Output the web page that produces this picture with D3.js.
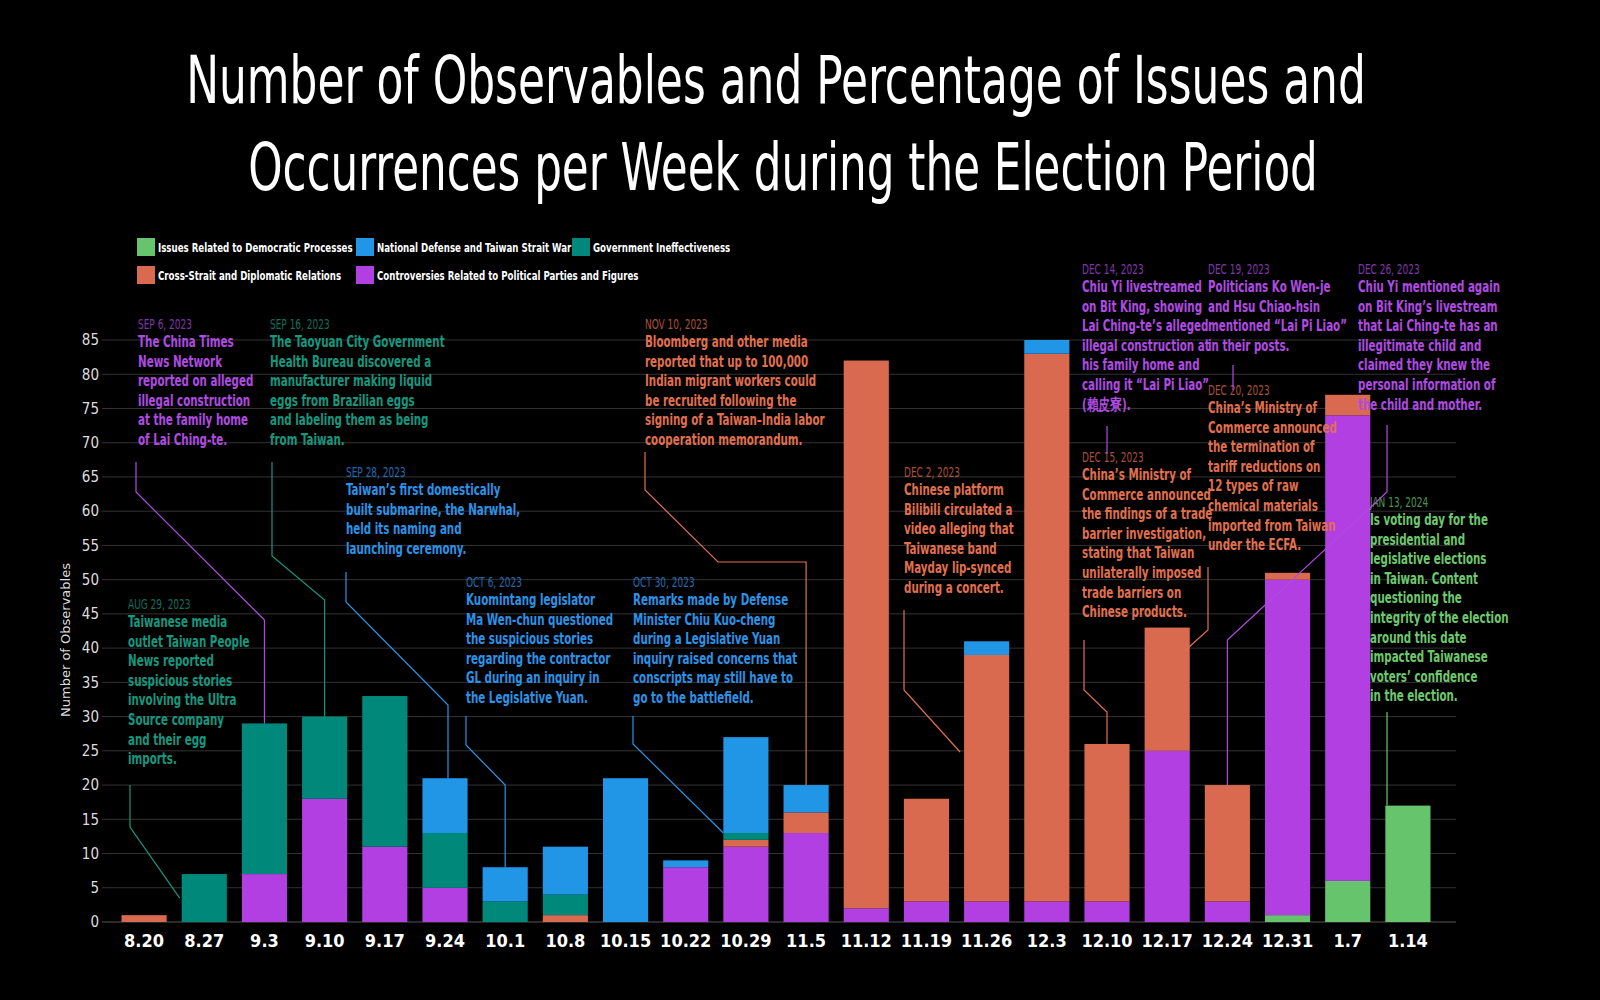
<!DOCTYPE html>
<html><head><meta charset="utf-8">
<script src="https://cdn.jsdelivr.net/npm/d3@7"></script>
<style>body{margin:0;background:#000}svg{display:block}</style>
</head><body><svg id="c" width="1600" height="1000"></svg>
<script>
const weeks=["8.20","8.27","9.3","9.10","9.17","9.24","10.1","10.8","10.15","10.22","10.29","11.5","11.12","11.19","11.26","12.3","12.10","12.17","12.24","12.31","1.7","1.14"];
const democratic=[0,0,0,0,0,0,0,0,0,0,0,0,0,0,0,0,0,0,0,1,6,17];
const political=[0,0,7,18,11,5,0,0,0,8,11,13,2,3,3,3,3,25,3,49,68,0];
const crossStrait=[1,0,0,0,0,0,0,1,0,0,1,3,80,15,36,80,23,18,17,1,3,0];
const government=[0,7,22,12,22,8,3,3,0,0,1,0,0,0,0,0,0,0,0,0,0,0];
const defense=[0,0,0,0,0,8,5,7,21,1,14,4,0,0,2,2,0,0,0,0,0,0];
const yTicks=[0,5,10,15,20,25,30,35,40,45,50,55,60,65,70,75,80,85];
const seriesNames=["Issues Related to Democratic Processes","Controversies Related to Political Parties and Figures","Cross-Strait and Diplomatic Relations","Government Ineffectiveness","National Defense and Taiwan Strait War"];
const seriesColors=["#66c46c","#b13fe2","#d96a50","#00897b","#2196e6"];
const seriesData=[democratic,political,crossStrait,government,defense];

const F="'DejaVu Sans Condensed','Liberation Sans Narrow',sans-serif";
const svg=d3.select("#c");
const x=d3.scaleBand().domain(weeks).range([114,1438]).paddingInner(0.25).paddingOuter(0.125);
const y=d3.scaleLinear().domain([0,85]).range([922,340]);

// title, squeezed horizontally to fit target width
function fitTitle(txt,cxp,by,w){
 const gT=svg.append("g");
 const t=gT.append("text").attr("text-anchor","middle").attr("fill","#fff").attr("font-family",F).attr("font-weight","300").attr("font-size",66).text(txt);
 const len=t.node().getComputedTextLength();
 gT.attr("transform",`translate(${cxp},${by}) scale(${w/len},1)`);
}
fitTitle("Number of Observables and Percentage of Issues and",776,103,1180);
fitTitle("Occurrences per Week during the Election Period",783,190,1070);

const SX=0.74;
// legend
const leg=[[0,137,238],[4,356,238],[3,572,238],[2,137,266],[1,356,266]];
leg.forEach(([i,lx,ly])=>{
 svg.append("rect").attr("x",lx).attr("y",ly).attr("width",18).attr("height",18).attr("fill",seriesColors[i]);
 svg.append("g").attr("transform",`translate(${lx+21},${ly+14}) scale(${SX},1)`)
  .append("text").attr("fill","#fff").attr("font-family",F).attr("font-weight","bold").attr("font-size",13).text(seriesNames[i]);
});

// grid + y axis
svg.append("g").selectAll("line").data(yTicks).join("line").attr("x1",102).attr("x2",1456).attr("y1",d=>y(d)).attr("y2",d=>y(d)).attr("stroke",d=>d===0?"#555":"#333").attr("stroke-width",1);
const ya=svg.append("g").attr("transform","translate(99,0)").call(d3.axisLeft(y).tickValues(yTicks).tickSize(0).tickPadding(0));
ya.select(".domain").remove();
ya.selectAll("text").attr("fill","#ddd").attr("font-family",F).attr("font-size",15);
svg.append("text").attr("transform","translate(70,640) rotate(-90)").attr("text-anchor","middle").attr("fill","#ddd").attr("font-family","'DejaVu Sans',sans-serif").attr("font-size",13).text("Number of Observables");

// bars
const rows=weeks.map((w,i)=>{const o={w};seriesNames.forEach((n,k)=>o[k]=seriesData[k][i]);return o;});
const stack=d3.stack().keys([0,1,2,3,4])(rows);
svg.append("g").selectAll("g").data(stack).join("g").attr("fill",(d,i)=>seriesColors[i])
 .selectAll("rect").data(d=>d.filter(s=>s[1]>s[0])).join("rect")
 .attr("x",d=>x(d.data.w)).attr("width",x.bandwidth()).attr("y",d=>y(d[1])).attr("height",d=>y(d[0])-y(d[1]));

// x axis
const xa=svg.append("g").attr("transform","translate(0,930)").call(d3.axisBottom(x).tickSize(0).tickPadding(4));
xa.select(".domain").remove();
xa.selectAll("text").attr("fill","#fff").attr("font-family",F).attr("font-weight","bold").attr("font-size",18);

const totals=weeks.map((w,i)=>seriesData.reduce((s,a)=>s+a[i],0));
const cx=w=>x(w)+x.bandwidth()/2;

// annotations
const C={p:"#b04be2",t:"#16977f",b:"#2b93e6",o:"#e0704f",g:"#6cc96f"};
const notes=[
 {d:"AUG 29, 2023",c:C.t,x:128,y:609,l:["Taiwanese media","outlet Taiwan People","News reported","suspicious stories","involving the Ultra","Source company","and their egg","imports."]},
 {d:"SEP 6, 2023",c:C.p,x:138,y:329,l:["The China Times","News Network","reported on alleged","illegal construction","at the family home","of Lai Ching-te."]},
 {d:"SEP 16, 2023",c:C.t,x:270,y:329,l:["The Taoyuan City Government","Health Bureau discovered a","manufacturer making liquid","eggs from Brazilian eggs","and labeling them as being","from Taiwan."]},
 {d:"SEP 28, 2023",c:C.b,x:346,y:477,l:["Taiwan’s first domestically","built submarine, the Narwhal,","held its naming and","launching ceremony."]},
 {d:"OCT 6, 2023",c:C.b,x:466,y:587,l:["Kuomintang legislator","Ma Wen-chun questioned","the suspicious stories","regarding the contractor","GL during an inquiry in","the Legislative Yuan."]},
 {d:"OCT 30, 2023",c:C.b,x:633,y:587,l:["Remarks made by Defense","Minister Chiu Kuo-cheng","during a Legislative Yuan","inquiry raised concerns that","conscripts may still have to","go to the battlefield."]},
 {d:"NOV 10, 2023",c:C.o,x:645,y:329,l:["Bloomberg and other media","reported that up to 100,000","Indian migrant workers could","be recruited following the","signing of a Taiwan–India labor","cooperation memorandum."]},
 {d:"DEC 2, 2023",c:C.o,x:904,y:477,l:["Chinese platform","Bilibili circulated a","video alleging that","Taiwanese band","Mayday lip-synced","during a concert."]},
 {d:"DEC 14, 2023",c:C.p,x:1082,y:274,l:["Chiu Yi livestreamed","on Bit King, showing","Lai Ching-te’s alleged","illegal construction at","his family home and","calling it “Lai Pi Liao”","(賴皮寮)."]},
 {d:"DEC 15, 2023",c:C.o,x:1082,y:462,l:["China’s Ministry of","Commerce announced","the findings of a trade","barrier investigation,","stating that Taiwan","unilaterally imposed","trade barriers on","Chinese products."]},
 {d:"DEC 19, 2023",c:C.p,x:1208,y:274,l:["Politicians Ko Wen-je","and Hsu Chiao-hsin","mentioned “Lai Pi Liao”","in their posts."]},
 {d:"DEC 20, 2023",c:C.o,x:1208,y:395,l:["China’s Ministry of","Commerce announced","the termination of","tariff reductions on","12 types of raw","chemical materials","imported from Taiwan","under the ECFA."]},
 {d:"DEC 26, 2023",c:C.p,x:1358,y:274,l:["Chiu Yi mentioned again","on Bit King’s livestream","that Lai Ching-te has an","illegitimate child and","claimed they knew the","personal information of","the child and mother."]},
 {d:"JAN 13, 2024",c:C.g,x:1370,y:507,l:["Is voting day for the","presidential and","legislative elections","in Taiwan. Content","questioning the","integrity of the election","around this date","impacted Taiwanese","voters’ confidence","in the election."]}
];
notes.forEach(n=>{
 const gN=svg.append("g").attr("transform",`translate(${n.x},${n.y}) scale(${SX},1)`);
 gN.append("text").attr("fill",n.c).attr("opacity",0.72).attr("font-family",F).attr("font-size",13.5).text(n.d);
 const t=gN.append("text").attr("fill",n.c).attr("font-family",F).attr("font-weight","bold").attr("font-size",15.5);
 n.l.forEach((s,i)=>t.append("tspan").attr("x",0).attr("y",18+i*19.6).text(s));
});
const bx=w=>x(w), bt=w=>y(totals[weeks.indexOf(w)]);
const leaders=[
 {c:C.t,p:[[130,785],[130,827],[bx("8.27")-2,bt("8.27")+24]]},
 {c:C.p,p:[[136,462],[136,492],[cx("9.3"),620],[cx("9.3"),bt("9.3")]]},
 {c:C.t,p:[[272,462],[272,556],[cx("9.10"),600],[cx("9.10"),bt("9.10")]]},
 {c:C.b,p:[[346,572],[346,602],[cx("9.24")+3,705],[cx("9.24")+3,bt("9.24")]]},
 {c:C.b,p:[[466,716],[466,745],[cx("10.1"),785],[cx("10.1"),bt("10.1")]]},
 {c:C.b,p:[[633,716],[633,744],[bx("10.29"),y(13)]]},
 {c:C.o,p:[[645,452],[645,490],[718,562],[cx("11.5"),562],[cx("11.5"),bt("11.5")]]},
 {c:C.o,p:[[904,610],[904,690],[bx("11.26")-4,752]]},
 {c:C.p,p:[[1107,426],[1107,454]]},
 {c:C.o,p:[[1084,640],[1084,690],[cx("12.10"),712],[cx("12.10"),bt("12.10")]]},
 {c:C.p,p:[[1233,365],[1233,390]]},
 {c:C.o,p:[[1208,567],[1208,630],[bx("12.17")+x.bandwidth()-4,650]]},
 {c:C.p,p:[[1387,425],[1387,492],[cx("12.24"),640],[cx("12.24"),bt("12.24")]]},
 {c:C.g,p:[[1387,712],[1387,bt("1.14")]]}
];
leaders.forEach(L=>svg.append("path").attr("d",d3.line()(L.p)).attr("fill","none").attr("stroke",L.c).attr("stroke-width",1.2));
</script></body></html>
